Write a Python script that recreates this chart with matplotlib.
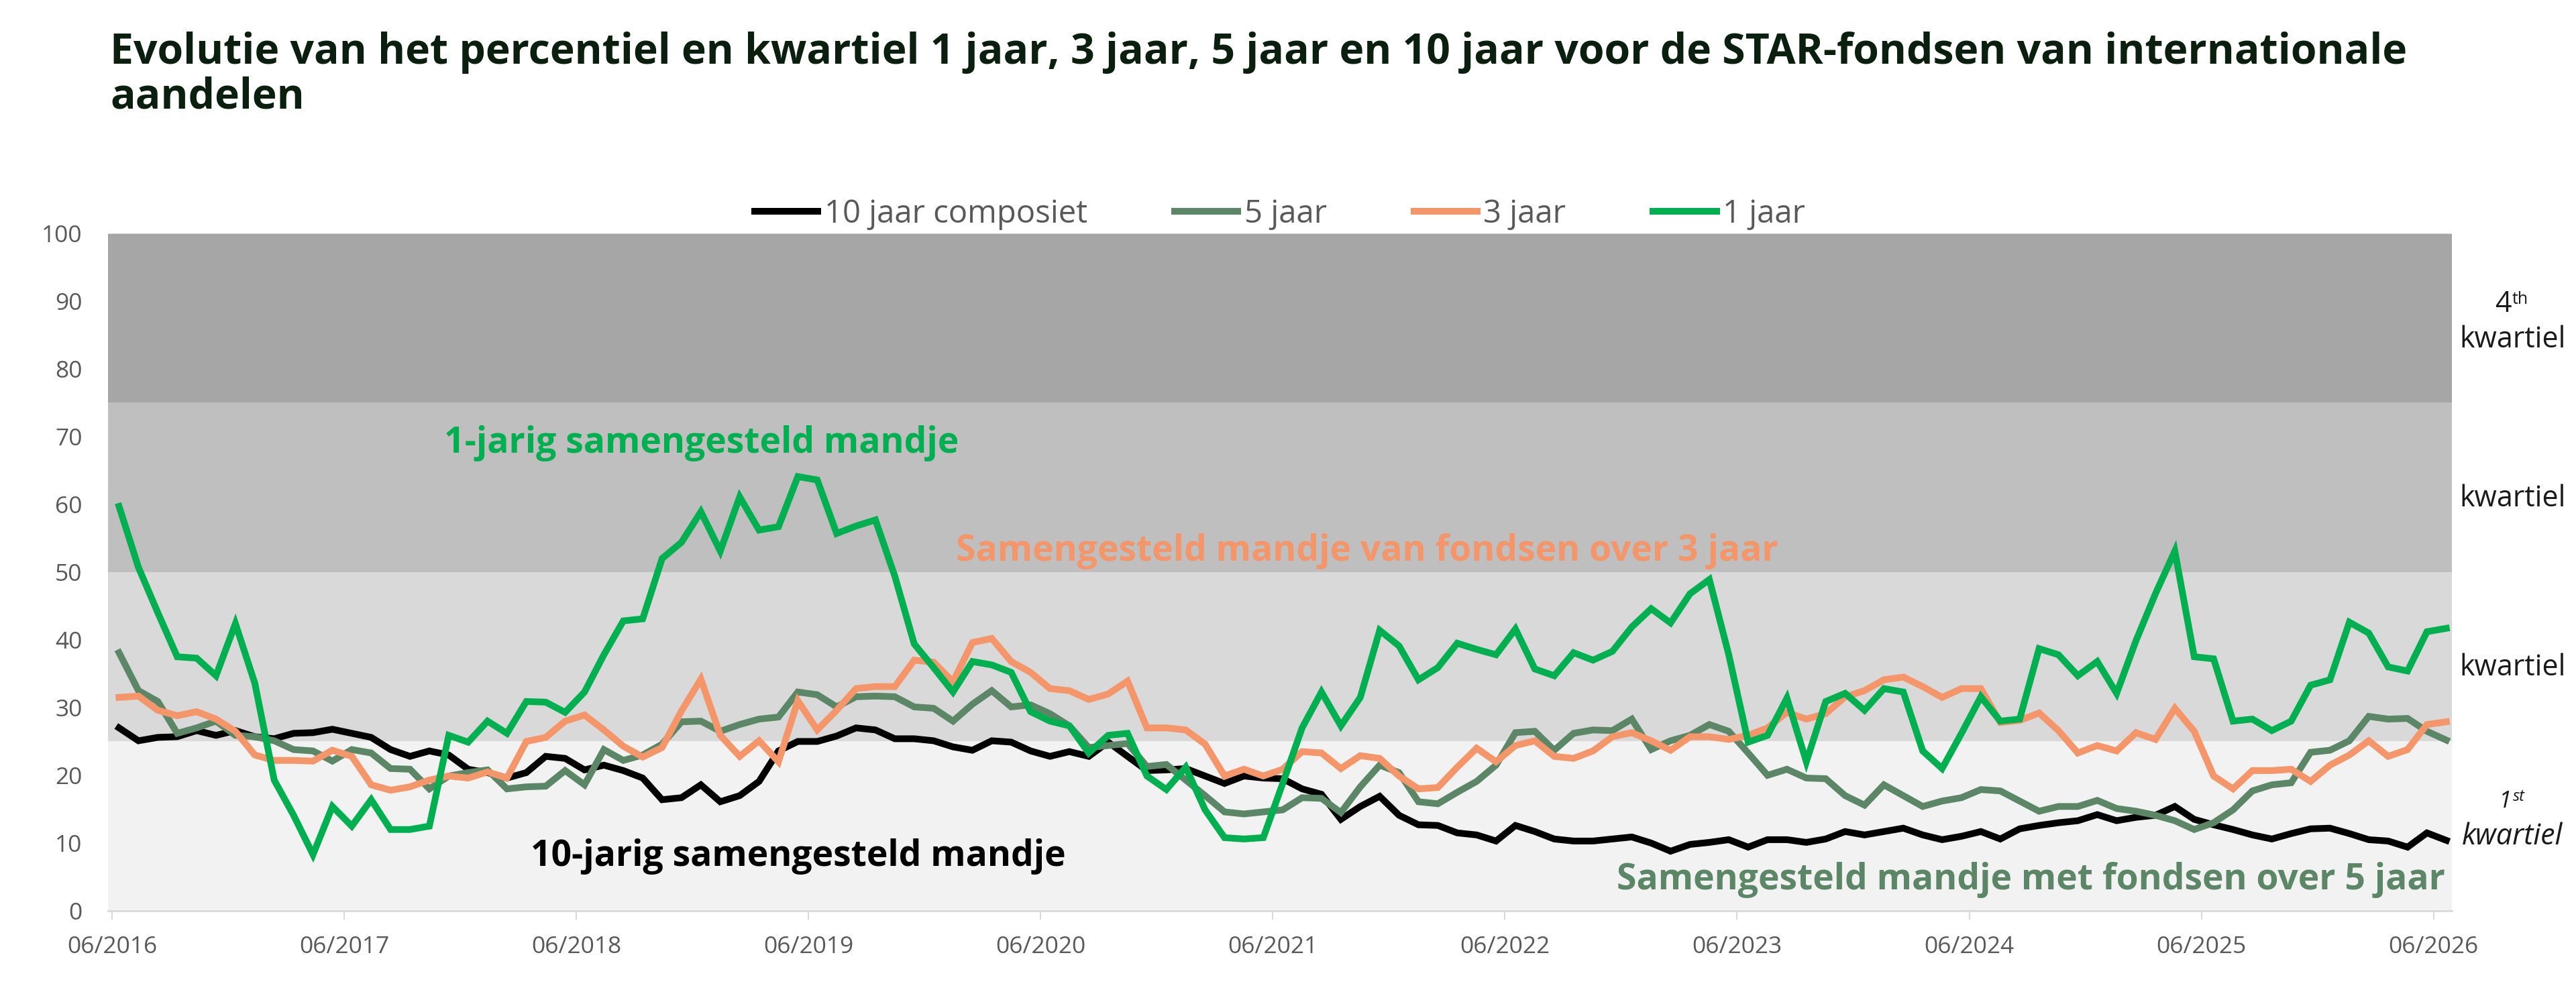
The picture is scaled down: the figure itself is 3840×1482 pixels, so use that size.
import numpy as np
import matplotlib
matplotlib.use("Agg")
import matplotlib.pyplot as plt

plt.rcParams['font.family'] = ['Open Sans', 'DejaVu Sans']

# monthly points, 06/2016 .. 06/2026
tick_labels = ["06/2016", "06/2017", "06/2018", "06/2019", "06/2020", "06/2021",
               "06/2022", "06/2023", "06/2024", "06/2025", "06/2026"]

jaar10 = [27.0, 25.1, 25.6, 25.7, 26.6, 25.9, 26.6, 25.7, 25.4, 26.2, 26.3, 26.8, 26.2, 25.6, 23.8, 22.8,
          23.6, 23.0, 20.9, 20.4, 19.6, 20.4, 22.8, 22.5, 20.8, 21.5, 20.7, 19.6, 16.4, 16.7, 18.6, 16.1,
          17.0, 19.1, 23.6, 25.0, 25.0, 25.8, 27.0, 26.7, 25.4, 25.4, 25.1, 24.2, 23.7, 25.1, 24.9, 23.6,
          22.8, 23.5, 22.8, 24.9, 22.8, 20.7, 20.8, 21.0, 19.9, 18.8, 19.9, 19.6, 19.5, 18.0, 17.2, 13.5,
          15.4, 16.9, 14.1, 12.7, 12.6, 11.5, 11.2, 10.3, 12.6, 11.7, 10.6, 10.3, 10.3, 10.6, 10.9, 10.0,
          8.8, 9.8, 10.1, 10.5, 9.4, 10.5, 10.5, 10.1, 10.6, 11.7, 11.2, 11.7, 12.2, 11.2, 10.5, 11.0,
          11.7, 10.6, 12.1, 12.6, 13.0, 13.3, 14.2, 13.3, 13.8, 14.1, 15.4, 13.5, 12.7, 12.0, 11.2, 10.6,
          11.4, 12.1, 12.2, 11.4, 10.5, 10.3, 9.4, 11.5, 10.4]

jaar5 = [38.1, 32.5, 30.9, 26.2, 27.0, 28.0, 25.9, 25.7, 25.1, 23.8, 23.6, 22.1, 23.8, 23.3, 21.0, 20.9,
         18.0, 19.9, 20.4, 20.8, 18.0, 18.3, 18.4, 20.7, 18.6, 23.8, 22.2, 23.0, 24.6, 27.9, 28.0, 26.5,
         27.5, 28.3, 28.6, 32.3, 31.9, 30.1, 31.6, 31.7, 31.6, 30.1, 29.9, 28.0, 30.5, 32.5, 30.1, 30.4,
         29.1, 27.3, 24.1, 24.4, 24.7, 21.3, 21.6, 19.3, 17.0, 14.6, 14.3, 14.6, 14.9, 16.7, 16.6, 14.5,
         18.3, 21.5, 20.4, 16.1, 15.8, 17.5, 19.1, 21.5, 26.3, 26.5, 23.7, 26.2, 26.7, 26.6, 28.3, 23.8,
         25.1, 25.9, 27.5, 26.5, 23.3, 20.0, 20.9, 19.6, 19.5, 17.0, 15.6, 18.6, 17.0, 15.4, 16.2, 16.7,
         17.9, 17.7, 16.2, 14.7, 15.4, 15.4, 16.3, 15.1, 14.7, 14.1, 13.3, 12.0, 13.0, 14.9, 17.7, 18.6,
         18.9, 23.4, 23.7, 25.1, 28.7, 28.3, 28.4, 26.5, 25.2]

jaar3 = [31.5, 31.7, 29.6, 28.8, 29.4, 28.3, 26.5, 23.0, 22.2, 22.2, 22.1, 23.7, 22.8, 18.6, 17.8, 18.3,
         19.3, 19.9, 19.6, 20.5, 19.6, 25.0, 25.6, 28.0, 28.9, 26.7, 24.3, 22.7, 24.1, 29.5, 34.2, 25.9,
         22.8, 25.1, 22.0, 31.0, 26.7, 29.6, 32.8, 33.1, 33.1, 37.0, 36.7, 33.8, 39.6, 40.2, 36.8, 35.2,
         32.8, 32.5, 31.2, 32.0, 33.9, 27.0, 27.0, 26.7, 24.6, 19.9, 20.9, 19.9, 20.9, 23.5, 23.3, 21.0,
         22.9, 22.5, 19.9, 18.0, 18.2, 21.2, 24.0, 22.0, 24.4, 25.1, 22.8, 22.5, 23.6, 25.7, 26.3, 25.1,
         23.7, 25.7, 25.7, 25.3, 25.9, 27.0, 29.3, 28.3, 29.1, 31.6, 32.5, 34.1, 34.5, 33.1, 31.5, 32.8,
         32.8, 27.8, 28.1, 29.2, 26.6, 23.3, 24.4, 23.6, 26.3, 25.3, 29.9, 26.5, 19.9, 18.0, 20.7, 20.7,
         20.9, 19.1, 21.5, 23.0, 25.1, 22.8, 23.8, 27.5, 27.9]

jaar1 = [59.7, 50.7, 44.0, 37.5, 37.3, 34.7, 42.4, 33.6, 19.3, 14.1, 8.3, 15.4, 12.5, 16.4, 12.0, 12.0,
         12.5, 25.9, 24.9, 28.0, 26.2, 30.9, 30.8, 29.3, 32.3, 37.8, 42.8, 43.1, 52.0, 54.4, 58.9, 53.1,
         61.1, 56.2, 56.7, 64.1, 63.6, 55.7, 56.8, 57.7, 49.4, 39.4, 35.9, 32.3, 36.8, 36.3, 35.2, 29.4,
         28.0, 27.3, 23.3, 25.9, 26.2, 19.9, 17.9, 21.2, 14.9, 10.8, 10.6, 10.8, 18.8, 27.0, 32.3, 27.3,
         31.5, 41.4, 39.1, 34.1, 35.9, 39.5, 38.6, 37.8, 41.6, 35.7, 34.7, 38.1, 37.0, 38.3, 41.9, 44.6,
         42.5, 46.8, 48.9, 37.8, 24.9, 25.9, 31.4, 22.0, 30.9, 32.1, 29.6, 32.8, 32.3, 23.6, 21.0, 26.2,
         31.6, 28.0, 28.3, 38.7, 37.8, 34.7, 36.8, 32.1, 39.9, 46.8, 53.1, 37.5, 37.2, 28.0, 28.3, 26.6,
         28.0, 33.3, 34.1, 42.6, 41.0, 36.0, 35.4, 41.2, 41.7]

series_names = ["10 jaar composiet", "5 jaar", "3 jaar", "1 jaar"]
series_colors = ["#000000", "#5b8767", "#f4956a", "#00b050"]

band_edges = [0, 25, 50, 75, 100]
band_colors = ["#f2f2f2", "#d9d9d9", "#bfbfbf", "#a6a6a6"]

title = ("Evolutie van het percentiel en kwartiel 1 jaar, 3 jaar, 5 jaar en 10 jaar voor de STAR-fondsen van internationale\n"
         "aandelen")


def main():
    fig = plt.figure(figsize=(38.4, 14.82), dpi=100)
    ax = fig.add_axes([0.042, 0.0837, 0.9097, 0.6815])

    for lo, hi, c in zip(band_edges[:-1], band_edges[1:], band_colors):
        ax.axhspan(lo, hi, color=c, lw=0, zorder=0)
    ax.axhline(100, color="#cfcfcf", lw=1.5, zorder=1)

    x = np.arange(len(jaar1))
    for vals, name, c in zip([jaar10, jaar5, jaar3, jaar1], series_names, series_colors):
        ax.plot(x, vals, color=c, lw=7.2, label=name, solid_joinstyle="miter", zorder=3)

    ax.set_xlim(-0.56, 120.27)
    ax.set_ylim(0, 100)
    ax.set_yticks(range(0, 101, 10))
    ax.set_xticks(np.arange(len(tick_labels)) * 11.97 - 0.36)
    ax.set_xticklabels(tick_labels)

    for s in ["top", "right", "left"]:
        ax.spines[s].set_visible(False)
    ax.spines["bottom"].set_color("#d9d9d9")
    ax.spines["bottom"].set_linewidth(2)
    ax.tick_params(axis="x", length=9, width=1.5, color="#d9d9d9", pad=18,
                   labelsize=25.5, labelcolor="#595959")
    ax.tick_params(axis="y", length=0, pad=28, labelsize=25.5, labelcolor="#595959")

    leg = ax.legend(loc="center", bbox_to_anchor=(0.5, 1.0287), ncol=4, frameon=False,
                    fontsize=34, handlelength=2.0, handletextpad=0.2, columnspacing=2.75,
                    borderaxespad=0)
    for t in leg.get_texts():
        t.set_color("#595959")

    # series annotations
    ax.text(16.76, 67.6, "1-jarig samengesteld mandje", color="#00b050",
            fontsize=38.5, fontweight="bold", va="baseline", zorder=4)
    ax.text(43.15, 51.7, "Samengesteld mandje van fondsen over 3 jaar", color="#f4956a",
            fontsize=38.5, fontweight="bold", va="baseline", zorder=4)
    ax.text(21.22, 6.6, "10-jarig samengesteld mandje", color="#000000",
            fontsize=38.5, fontweight="bold", va="baseline", zorder=4)
    ax.text(119.95, 3.2, "Samengesteld mandje met fondsen over 5 jaar", color="#5b8767",
            fontsize=38.5, fontweight="bold", va="baseline", ha="right", zorder=4)

    # quartile labels on the right
    tr = ax.get_yaxis_transform()
    qx = 1.026
    ax.text(qx - 0.0005, 88.4, "4", transform=tr, fontsize=31, ha="right", va="baseline", color="#1a1a1a")
    ax.text(qx - 0.0002, 89.6, "th", transform=tr, fontsize=18, ha="left", va="baseline", color="#1a1a1a")
    ax.text(qx, 83.2, "kwartiel", transform=tr, fontsize=31, ha="center", va="baseline", color="#1a1a1a")
    ax.text(qx, 59.7, "kwartiel", transform=tr, fontsize=31, ha="center", va="baseline", color="#1a1a1a")
    ax.text(qx, 34.7, "kwartiel", transform=tr, fontsize=31, ha="center", va="baseline", color="#1a1a1a")
    ax.text(qx - 0.0005, 15.2, "1", transform=tr, fontsize=25, ha="right", va="baseline",
            style="italic", color="#1a1a1a")
    ax.text(qx + 0.0002, 16.2, "st", transform=tr, fontsize=17, ha="left", va="baseline",
            style="italic", color="#1a1a1a")
    ax.text(qx, 9.8, "kwartiel", transform=tr, fontsize=31, ha="center", va="baseline",
            style="italic", color="#1a1a1a")

    # baseline of the last title line
    fig.text(0.0427, 1 - 162 / 1482, title, fontsize=45, fontweight="bold", color="#0b1f0e",
             va="baseline", ha="left", linespacing=1.08)

    fig.savefig("out.png", dpi=100)


if __name__ == "__main__":
    main()
